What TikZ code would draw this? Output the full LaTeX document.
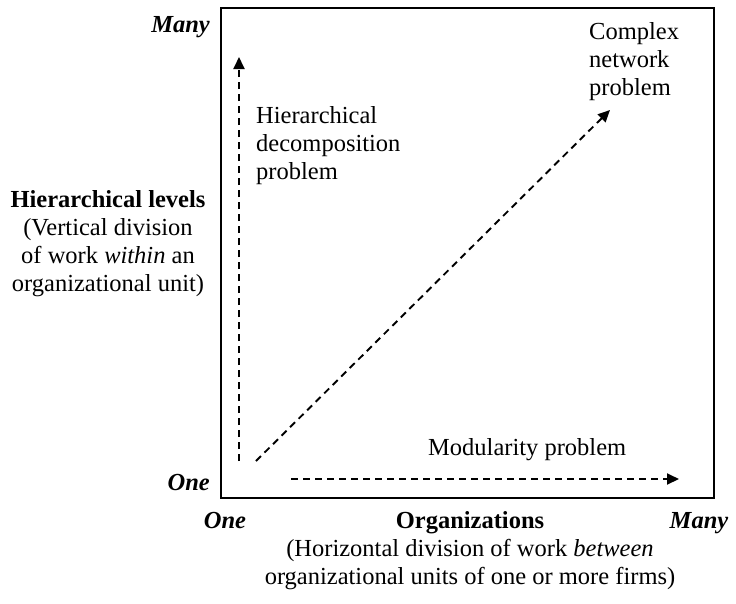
\documentclass[tikz,border=0pt]{standalone}
\usepackage{fontspec}
\setmainfont{Liberation Serif}
\usetikzlibrary{arrows.meta}
\begin{document}
\begin{tikzpicture}[x=1pt,y=-1pt,
  txt/.style={inner sep=0pt,font=\fontsize{24.5}{28}\selectfont},
  axislabel/.style={txt,font=\fontsize{24.5}{28}\selectfont\bfseries\itshape},
  dasharrow/.style={line width=1.9pt,dash pattern=on 7pt off 5pt,
    -{Triangle[length=12pt,width=11pt]}}]
  \path[use as bounding box,fill=white] (0,0) rectangle (736,603);

  % frame of the chart
  \draw[line width=1.6pt] (221,8) rectangle (714,498);

  % axis end labels
  \node[axislabel,anchor=base east] (manyy) at (210,32) {Many};
  \node[axislabel,anchor=base east] (oney) at (210,490) {One};
  \node[axislabel,anchor=base] (onex) at (225,528) {One};
  \node[axislabel,anchor=base] (manyx) at (699,528) {Many};

  % axis titles
  \node[txt,anchor=base,font=\fontsize{24.5}{28}\selectfont\bfseries] (orgs) at (470,528) {Organizations};
  \node[txt,align=center,anchor=north] (xtitle) at (470,539)
    {(Horizontal division of work \textit{between}\\organizational units of one or more firms)};
  \node[txt,align=center,anchor=north] (ytitle) at (108,190)
    {\textbf{Hierarchical levels}\\(Vertical division\\of work \textit{within} an\\organizational unit)};

  % arrow end points
  \coordinate (vstart) at (239,461);
  \coordinate (vend) at (239,57);
  \coordinate (dstart) at (256,461);
  \coordinate (dend) at (610,110);
  \coordinate (hstart) at (291,479);
  \coordinate (hend) at (679,479);

  \draw[dasharrow] (vstart) -- (vend);
  \draw[dasharrow] (dstart) -- (dend);
  \draw[dasharrow] (hstart) -- (hend);

  % problem labels
  \node[txt,align=left,anchor=north west] (hier) at (256,106)
    {Hierarchical\\decomposition\\problem};
  \node[txt,align=left,anchor=north west] (complex) at (589,22)
    {Complex\\network\\problem};
  \node[txt,anchor=base west] (modul) at (428,455) {Modularity problem};
\end{tikzpicture}
\end{document}
